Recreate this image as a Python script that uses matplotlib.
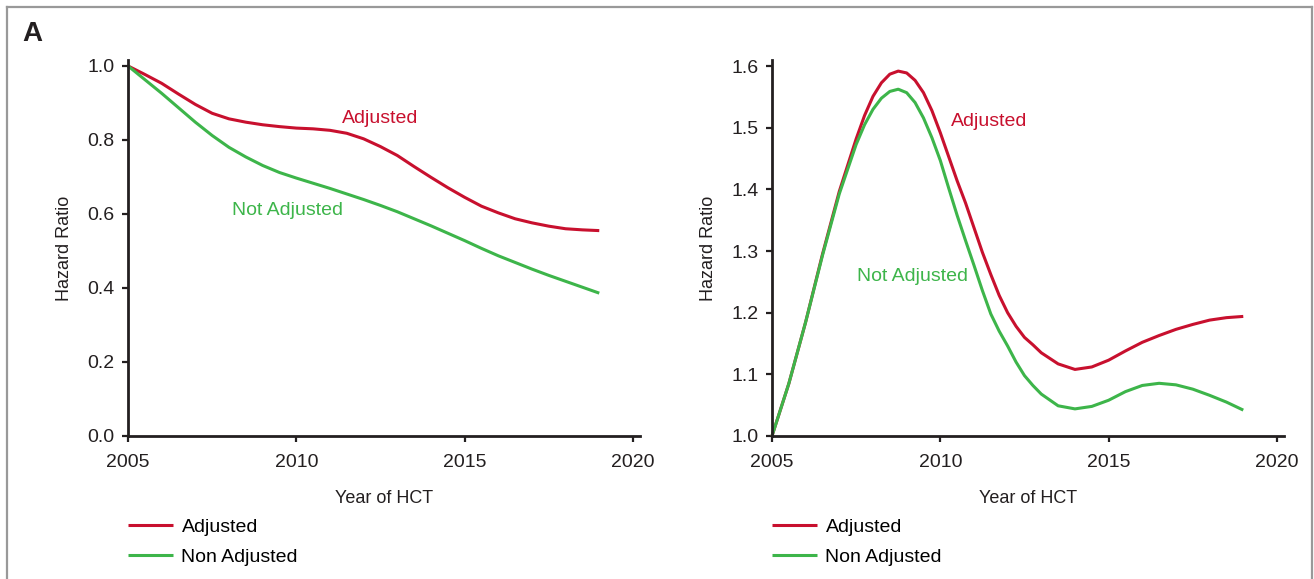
import matplotlib
matplotlib.use('Agg')
import matplotlib.pyplot as plt
from matplotlib.lines import Line2D

# Panel A, left: hazard ratio by year of HCT
tahun_kiri = [2005, 2005.5, 2006, 2006.5, 2007, 2007.5, 2008, 2008.5, 2009, 2009.5,
              2010, 2010.5, 2011, 2011.5, 2012, 2012.5, 2013, 2013.5, 2014, 2014.5,
              2015, 2015.5, 2016, 2016.5, 2017, 2017.5, 2018, 2018.5, 2019]
adj_kiri = [1.000, 0.977, 0.953, 0.924, 0.896, 0.872, 0.857, 0.848, 0.841, 0.836,
            0.832, 0.830, 0.826, 0.818, 0.803, 0.782, 0.758, 0.728, 0.699, 0.671,
            0.645, 0.621, 0.603, 0.587, 0.576, 0.567, 0.560, 0.557, 0.555]
nonadj_kiri = [1.000, 0.963, 0.926, 0.887, 0.848, 0.812, 0.780, 0.754, 0.731, 0.712,
               0.697, 0.683, 0.669, 0.654, 0.639, 0.623, 0.606, 0.587, 0.568, 0.548,
               0.528, 0.507, 0.487, 0.469, 0.451, 0.434, 0.418, 0.402, 0.386]

# Panel A, right
tahun_kanan = [2005, 2005.5, 2006, 2006.5, 2007, 2007.5, 2007.75, 2008, 2008.25, 2008.5,
               2008.75, 2009, 2009.25, 2009.5, 2009.75, 2010, 2010.25, 2010.5, 2010.75, 2011,
               2011.25, 2011.5, 2011.75, 2012, 2012.25, 2012.5, 2012.75, 2013, 2013.5, 2014,
               2014.5, 2015, 2015.5, 2016, 2016.5, 2017, 2017.5, 2018, 2018.5, 2019]
adj_kanan = [1.000, 1.085, 1.185, 1.295, 1.397, 1.482, 1.520, 1.551, 1.573, 1.587,
             1.592, 1.589, 1.577, 1.557, 1.528, 1.492, 1.453, 1.414, 1.378, 1.338,
             1.298, 1.262, 1.228, 1.200, 1.178, 1.160, 1.148, 1.135, 1.117, 1.108,
             1.112, 1.123, 1.138, 1.152, 1.163, 1.173, 1.181, 1.188, 1.192, 1.194]
nonadj_kanan = [1.000, 1.085, 1.185, 1.293, 1.393, 1.473, 1.505, 1.530, 1.548, 1.559,
                1.5626, 1.557, 1.541, 1.516, 1.484, 1.447, 1.402, 1.358, 1.317, 1.277,
                1.236, 1.198, 1.170, 1.146, 1.120, 1.098, 1.082, 1.068, 1.049, 1.044,
                1.048, 1.058, 1.072, 1.082, 1.0855, 1.083, 1.076, 1.066, 1.055, 1.042]

xticks = [2005, 2010, 2015, 2020]
yticks_kiri = [0.0, 0.2, 0.4, 0.6, 0.8, 1.0]
yticks_kanan = [1.0, 1.1, 1.2, 1.3, 1.4, 1.5, 1.6]

MERAH = '#C8102E'
HIJAU = '#3DB54A'
HITAM = '#231F20'

plt.rcParams['font.family'] = ['Liberation Sans', 'DejaVu Sans']

fig = plt.figure(figsize=(13.14, 5.79), dpi=100)

# bingkai abu-abu
for xs, ys in [([7/1314, 7/1314], [-0.1, 1 - 7/579]),
               ([7/1314, 1312/1314], [1 - 7/579, 1 - 7/579]),
               ([1312/1314, 1312/1314], [-0.1, 1 - 7/579])]:
    fig.add_artist(Line2D(xs, ys, transform=fig.transFigure, color='#999999', lw=1.6))

fig.text(22/1314, 1 - 34/579, 'A', fontsize=20, fontweight='bold', color=HITAM,
         ha='left', va='center')

ax1 = fig.add_axes([128/1314, 1 - 436/579, 512/1314, 376/579])
ax2 = fig.add_axes([772/1314, 1 - 436/579, 512/1314, 376/579])


def gaya_sumbu(ax, yticks, ylim):
    for s in ['top', 'right']:
        ax.spines[s].set_visible(False)
    for s in ['left', 'bottom']:
        ax.spines[s].set_linewidth(2.0)
        ax.spines[s].set_color(HITAM)
    ax.set_xlim(2005, 2020.21)
    ax.set_ylim(*ylim)
    ax.set_xticks(xticks)
    ax.set_yticks(yticks)
    ax.set_yticklabels(['{:.1f}'.format(v) for v in yticks])
    ax.tick_params(axis='both', direction='out', length=4.5, width=1.6, color=HITAM,
                   labelsize=14, labelcolor=HITAM)
    ax.tick_params(axis='y', pad=5)
    ax.tick_params(axis='x', pad=8.5)
    ax.text(-0.124, 0.5, 'Hazard Ratio', transform=ax.transAxes, rotation=90,
            ha='center', va='center', fontsize=13, color=HITAM)
    ax.text(0.5, -0.165, 'Year of HCT', transform=ax.transAxes,
            ha='center', va='center', fontsize=13, color=HITAM)


gaya_garis = dict(lw=2.2, clip_on=False, solid_joinstyle='round', solid_capstyle='butt')

ax1.plot(tahun_kiri, adj_kiri, color=MERAH, label='Adjusted', **gaya_garis)
ax1.plot(tahun_kiri, nonadj_kiri, color=HIJAU, label='Non Adjusted', **gaya_garis)
gaya_sumbu(ax1, yticks_kiri, (0, 1.016))
ax1.text(2012.5, 0.858, 'Adjusted', color=MERAH, fontsize=14, ha='center', va='center')
ax1.text(2009.75, 0.608, 'Not Adjusted', color=HIJAU, fontsize=14, ha='center', va='center')

ax2.plot(tahun_kanan, adj_kanan, color=MERAH, label='Adjusted', **gaya_garis)
ax2.plot(tahun_kanan, nonadj_kanan, color=HIJAU, label='Non Adjusted', **gaya_garis)
gaya_sumbu(ax2, yticks_kanan, (1.0, 1.61))
ax2.text(2011.45, 1.51, 'Adjusted', color=MERAH, fontsize=14, ha='center', va='center')
ax2.text(2009.17, 1.259, 'Not Adjusted', color=HIJAU, fontsize=14, ha='center', va='center')

for ax in [ax1, ax2]:
    ax.legend(loc='upper left', bbox_to_anchor=(0, -0.218), frameon=False, fontsize=14,
              handlelength=2.32, handletextpad=0.43, labelspacing=0.64,
              borderpad=0, borderaxespad=0)

plt.savefig('out.png', dpi=100)
plt.close()
